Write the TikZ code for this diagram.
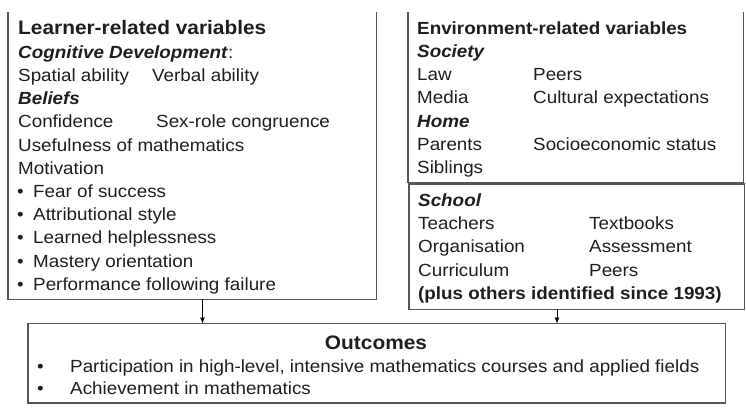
\documentclass[tikz,border=0pt]{standalone}
\usepackage{fontspec}
\setmainfont[FakeStretch=1.07]{Liberation Sans}
\usetikzlibrary{arrows.meta}
\definecolor{txt}{HTML}{1E1E1E}
\definecolor{boxline}{HTML}{555555}
\tikzset{
  boxedge/.style={draw=boxline, line width=1.3pt},
  frame/.style={inner sep=0pt, anchor=north west},
  lbl/.style={anchor=base west, inner sep=0pt, text=txt, font=\fontsize{17.6}{20}\selectfont},
  ttl/.style={lbl, font=\fontsize{19.5}{22}\selectfont\bfseries},
  hd/.style={lbl, font=\fontsize{17.6}{20}\selectfont\bfseries\itshape},
  bd/.style={lbl, font=\fontsize{17.6}{20}\selectfont\bfseries},
  link/.style={draw=black, line width=0.8pt, -{Latex[length=6pt,width=5pt]}}
}
\begin{document}
\begin{tikzpicture}[x=1pt,y=-1pt]
\useasboundingbox (0,0) rectangle (746,411);
% frames
\node[frame, minimum width=368pt, minimum height=287pt] (learner) at (8,12) {};
\node[frame, minimum width=335pt, minimum height=170pt] (env) at (408,12) {};
\node[frame, minimum width=335pt, minimum height=125pt] (school) at (409,184) {};
\node[frame, minimum width=697pt, minimum height=79pt] (outcomes) at (28,323.5) {};
\draw[boxedge] (learner.north west) -- (learner.south west) -- (learner.south east) -- (learner.north east);
\draw[boxedge] (env.north west) -- (env.south west) -- (env.south east) -- (env.north east);
\draw[boxedge] (school.north west) rectangle (school.south east);
\draw[boxedge] (outcomes.north west) rectangle (outcomes.south east);
% learner text
\node[ttl] (l0) at (18,34.3) {Learner-related variables};
\node[lbl] (l1) at (18,58.3) {\textbf{\textit{Cognitive Development}}:};
\node[lbl] (l2a) at (18,81.5) {Spatial ability};
\node[lbl] (l2b) at (152,81.5) {Verbal ability};
\node[hd] (l3) at (18,104.7) {Beliefs};
\node[lbl] (l4a) at (18,127.9) {Confidence};
\node[lbl] (l4b) at (156,127.9) {Sex-role congruence};
\node[lbl] (l5) at (18,151.1) {Usefulness of mathematics};
\node[lbl] (l6) at (18,174.3) {Motivation};
\foreach \t [count=\i] in {Fear of success, Attributional style, Learned helplessness, Mastery orientation, Performance following failure}{
  \node[lbl] (lb\i) at (17,174.3+23.2*\i) {•};
  \node[lbl] (lt\i) at (33,174.3+23.2*\i) {\t};
}
% environment text
\node[bd] (e0) at (417,34.5) {Environment-related variables};
\node[hd] (e1) at (417,57.5) {Society};
\node[lbl] (e2a) at (417,80.7) {Law};
\node[lbl] (e2b) at (533,80.7) {Peers};
\node[lbl] (e3a) at (417,103.9) {Media};
\node[lbl] (e3b) at (533,103.9) {Cultural expectations};
\node[hd] (e4) at (417,127.1) {Home};
\node[lbl] (e5a) at (417,150.3) {Parents};
\node[lbl] (e5b) at (533,150.3) {Socioeconomic status};
\node[lbl] (e6) at (417,173.5) {Siblings};
% school text
\node[hd] (s0) at (418,206.5) {School};
\node[lbl] (s1a) at (418,229.7) {Teachers};
\node[lbl] (s1b) at (589,229.7) {Textbooks};
\node[lbl] (s2a) at (418,252.9) {Organisation};
\node[lbl] (s2b) at (589,252.9) {Assessment};
\node[lbl] (s3a) at (418,276.1) {Curriculum};
\node[lbl] (s3b) at (589,276.1) {Peers};
\node[bd] (s4) at (418,299.3) {(plus others identified since 1993)};
% outcomes text
\node[ttl, anchor=base] (o0) at (376,349.5) {Outcomes};
\node[lbl] (ob1) at (37,372.3) {•};
\node[lbl] (ot1) at (70,372.3) {Participation in high-level, intensive mathematics courses and applied fields};
\node[lbl] (ob2) at (37,394) {•};
\node[lbl] (ot2) at (70,394) {Achievement in mathematics};
% connectors
\coordinate (c1) at (202.5,299);
\coordinate (c2) at (557,309);
\draw[link] (c1) -- (c1 |- outcomes.north);
\draw[link] (c2) -- (c2 |- outcomes.north);
\end{tikzpicture}
\end{document}
